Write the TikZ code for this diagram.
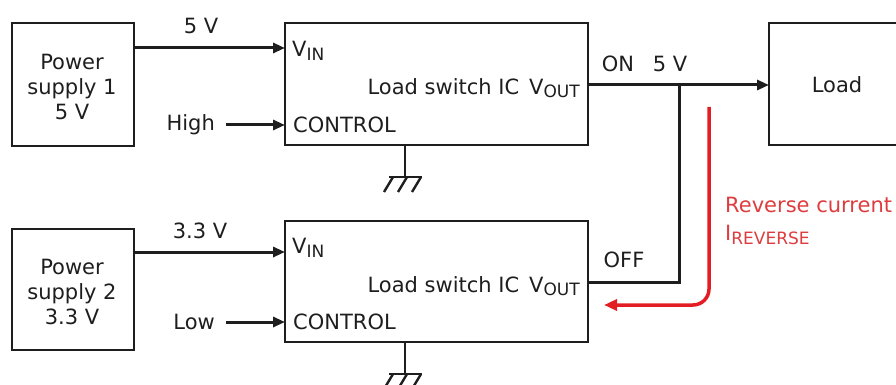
\documentclass[tikz,border=0pt]{standalone}
\usepackage{fontspec}
\setmainfont{DejaVu Sans}
\usetikzlibrary{arrows.meta}
\definecolor{revred}{RGB}{226,30,36}
\definecolor{revtext}{RGB}{222,60,62}
\definecolor{ink}{RGB}{30,30,30}
\newcommand{\sizedtext}{\fontsize{21}{25}\selectfont}
\newcommand{\subtxt}[1]{\raisebox{-0.3ex}{\fontsize{17}{18}\selectfont #1}}
\begin{document}
\begin{tikzpicture}[x=1pt,y=-1pt,
  box/.style={draw=ink,line width=2.4pt,rectangle,inner sep=0pt,outer sep=0pt},
  lbl/.style={text=ink,font=\sizedtext,inner sep=0pt,align=center},
  wire/.style={draw=ink,line width=3pt},
  arr/.style={wire,-{Triangle[length=12pt,width=10pt]}},
  gnd/.style={draw=ink,line width=2.4pt}]
\useasboundingbox (0,0) rectangle (896,385);
% boxes
\node[box,minimum width=122pt,minimum height=123pt] (ps1) at (73,84.5) {};
\node[box,minimum width=122pt,minimum height=121pt] (ps2) at (73,289.5) {};
\node[box,minimum width=303pt,minimum height=122pt] (ic1) at (436.5,84) {};
\node[box,minimum width=303pt,minimum height=121pt] (ic2) at (436.5,281.5) {};
\node[box,minimum width=140pt,minimum height=122pt] (load) at (839,84) {};
% box texts
\node[lbl] (ps1t) at (72,87) {Power\\supply 1\\5 V};
\node[lbl] (ps2t) at (72,292) {Power\\supply 2\\3.3 V};
\node[lbl] (loadt) at (837,85) {Load};
\node[lbl,anchor=west] (vin1) at (292,51) {V\subtxt{IN}};
\node[lbl,anchor=west] (ctl1) at (293,125) {CONTROL};
\node[lbl,anchor=east] (lsw1) at (580,88) {Load switch IC\hspace{10pt}V\subtxt{OUT}};
\node[lbl,anchor=west] (vin2) at (292,248) {V\subtxt{IN}};
\node[lbl,anchor=west] (ctl2) at (293,322) {CONTROL};
\node[lbl,anchor=east] (lsw2) at (580,286) {Load switch IC\hspace{10pt}V\subtxt{OUT}};
% labels
\node[lbl] (v5) at (201,26) {5 V};
\node[lbl] (v33) at (200,231) {3.3 V};
\node[lbl,anchor=east] (high) at (215,125) {High};
\node[lbl,anchor=east] (low) at (215,322) {Low};
\node[lbl] (on) at (618,64) {ON};
\node[lbl] (on5) at (670,64) {5 V};
\node[lbl] (off) at (624,260) {OFF};
\node[lbl,anchor=west,text=revtext,align=left] (rev) at (725,205) {Reverse current};
\node[lbl,anchor=west,text=revtext,align=left] (irev) at (725,235) {I\subtxt{REVERSE}};
% coordinates
\coordinate (j) at (679,85);
\coordinate (k) at (679,282);
% wires
\draw[arr] (ps1.east |- 0,48) -- (ic1.west |- 0,48);
\draw[arr] (ps2.east |- 0,252) -- (ic2.west |- 0,252);
\draw[arr] (high.east) ++(11,0) -- (ic1.west |- high.east);
\draw[arr] (low.east) ++(11,0) -- (ic2.west |- low.east);
\draw[arr] (ic1.east |- j) -- (load.west |- j);
\draw[wire,line join=miter] (j) -- (k) -- (ic2.east |- k);
% reverse current
\coordinate (r1) at (709,107);
\coordinate (r2) at (709,305);
\coordinate (r3) at (604,305);
\draw[draw=revred,line width=3.5pt,rounded corners=16pt,-{Triangle[length=13pt,width=11pt]}] (r1) -- (r2) -- (r3);
% grounds
\coordinate (g1) at (405,177);
\coordinate (g2) at (405,374);
\foreach \g/\b in {g1/ic1,g2/ic2}{
  \draw[gnd] (\b.south -| \g) -- (\g);
  \draw[gnd] ([xshift=-16pt]\g) -- ([xshift=17pt]\g);
  \foreach \dx in {-12,2,16}
    \draw[gnd] ([xshift=\dx pt]\g) -- ([xshift=\dx pt-9pt,yshift=-15pt]\g);
}
\end{tikzpicture}
\end{document}
